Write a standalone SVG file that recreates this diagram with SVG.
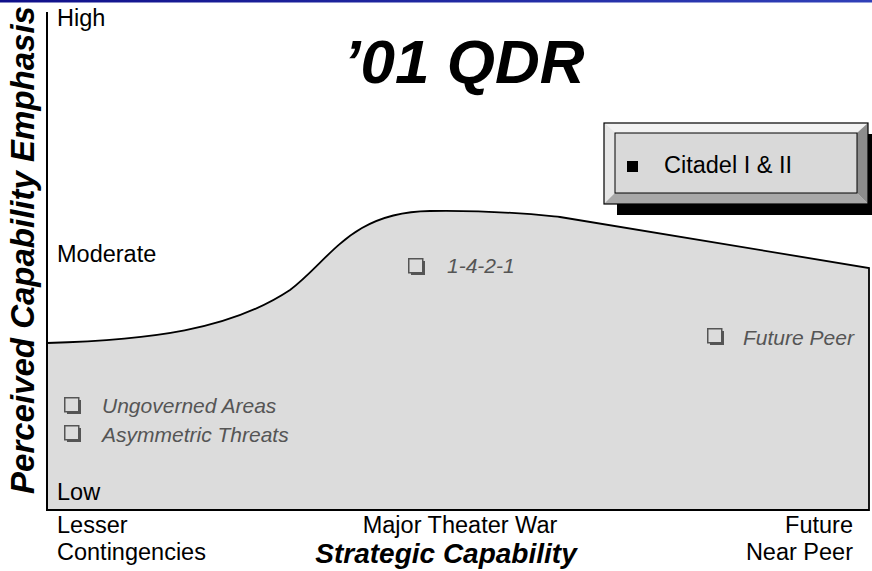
<svg xmlns="http://www.w3.org/2000/svg" width="872" height="571" viewBox="0 0 872 571">
<defs>
<linearGradient id="topbar" x1="0" y1="0" x2="1" y2="0">
<stop offset="0" stop-color="#10108a"/>
<stop offset="1" stop-color="#3040b8"/>
</linearGradient>
<g id="chk">
<rect x="3" y="3" width="14" height="14" fill="#555"/>
<rect x="0.75" y="0.75" width="14" height="14" fill="#dcdcdc" stroke="#555" stroke-width="1.5"/>
</g>
</defs>
<style>
.lbl{font-family:"Liberation Sans",Arial,sans-serif;font-size:23.5px;fill:#000}
.item{font-family:"Liberation Sans",Arial,sans-serif;font-size:21px;font-style:italic;fill:#555}
.bi{font-family:"Liberation Sans",Arial,sans-serif;font-weight:bold;font-style:italic;fill:#000}
</style>
<rect width="872" height="571" fill="#fff"/>
<rect x="0" y="0" width="872" height="2.5" fill="url(#topbar)"/>

<g id="area">
<path d="M47,343 C150,340 230,330 290,290 C330,260 350,212 430,211 C500,210 540,215 560,217 L869,268 L869,510 L47,510 Z" fill="#dcdcdc" stroke="#000" stroke-width="1.8"/>
</g>
<g id="axis">
<line x1="47" y1="12" x2="47" y2="511" stroke="#000" stroke-width="2"/>
</g>

<g id="title"><text class="bi" x="464" y="83" font-size="62" text-anchor="middle">’01 QDR</text></g>

<g id="ylabels">
<text class="lbl" x="57" y="26">High</text>
<text class="lbl" x="57" y="262">Moderate</text>
<text class="lbl" x="57" y="500">Low</text>
</g>
<g id="yaxis-title"><text class="bi" font-size="33" text-anchor="middle" transform="translate(34,250) rotate(-90)">Perceived Capability Emphasis</text></g>

<g id="xlabels">
<text class="lbl" x="57" y="533">Lesser</text>
<text class="lbl" x="57" y="560">Contingencies</text>
<text class="lbl" x="460" y="533" text-anchor="middle">Major Theater War</text>
<text class="lbl" x="853" y="533" text-anchor="end">Future</text>
<text class="lbl" x="853" y="560" text-anchor="end">Near Peer</text>
</g>
<g id="xaxis-title"><text class="bi" x="446" y="563" font-size="28" text-anchor="middle">Strategic Capability</text></g>

<g id="citadel">
<rect x="617" y="134" width="255" height="81" fill="#000"/>
<rect x="604" y="123" width="264" height="81" fill="#d9d9d9"/>
<polygon points="604,123 868,123 857,133 615,133" fill="#f2f2f2"/>
<polygon points="604,123 615,133 615,193 604,204" fill="#e6e6e6"/>
<polygon points="868,123 868,204 857,193 857,133" fill="#8c8c8c"/>
<polygon points="604,204 615,193 857,193 868,204" fill="#a8a8a8"/>
<rect x="604" y="123" width="264" height="81" fill="none" stroke="#000" stroke-width="1.2"/>
<rect x="615" y="133" width="242" height="60" fill="none" stroke="#000" stroke-width="1"/>
<rect x="627" y="161" width="11" height="11" fill="#000"/>
<text class="lbl" x="664" y="173" font-size="27">Citadel I &amp; II</text>
</g>

<g id="item-1421">
<use href="#chk" x="408" y="258"/>
<text class="item" x="447" y="273">1-4-2-1</text>
</g>
<g id="item-future-peer">
<use href="#chk" x="707" y="328"/>
<text class="item" x="743" y="345">Future Peer</text>
</g>
<g id="item-ungoverned">
<use href="#chk" x="64" y="397"/>
<text class="item" x="102" y="413">Ungoverned Areas</text>
</g>
<g id="item-asymmetric">
<use href="#chk" x="64" y="425"/>
<text class="item" x="102" y="442">Asymmetric Threats</text>
</g>
</svg>
